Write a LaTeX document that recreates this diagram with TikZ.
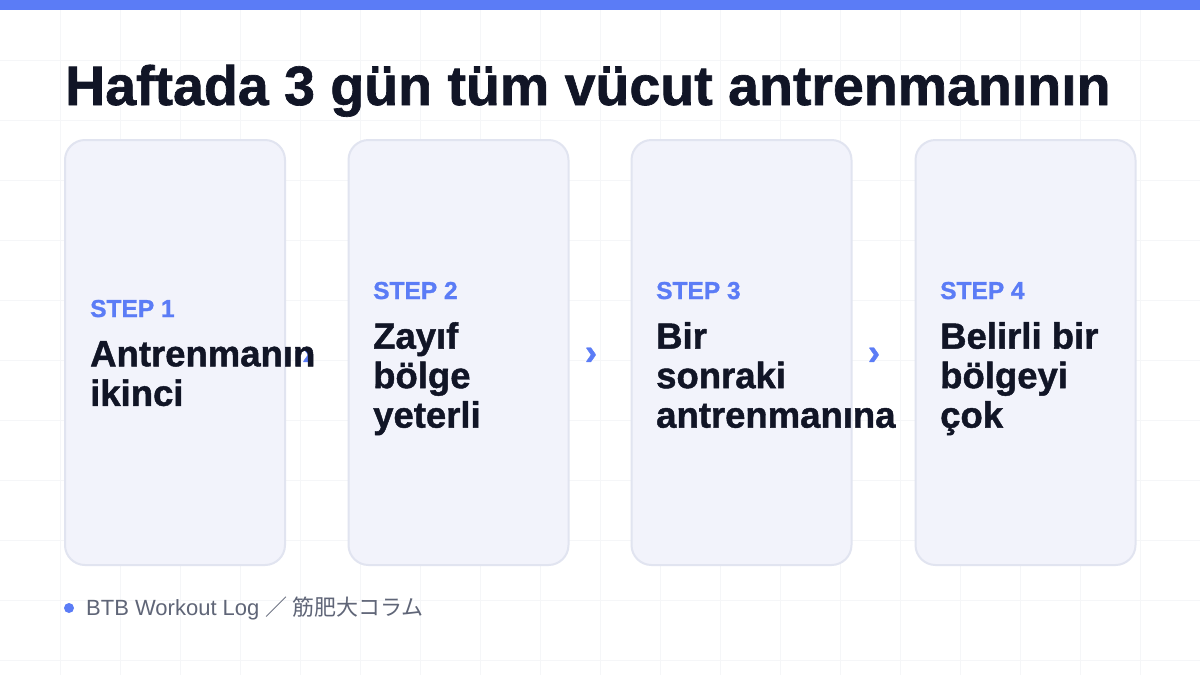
\documentclass[tikz,border=0pt]{standalone}
\usepackage{fontspec}
\setmainfont{Liberation Sans}[BoldFeatures={FakeBold=1.2}]
\newfontfamily\cjkfont{Noto Sans CJK JP}
\definecolor{accent}{HTML}{5B7CF6}
\definecolor{ink}{HTML}{111526}
\definecolor{cardfill}{HTML}{F2F3FB}
\definecolor{cardline}{HTML}{E1E4F0}
\definecolor{gridc}{HTML}{F5F6F8}
\definecolor{footc}{HTML}{5F6577}
\tikzset{
  card/.style={draw=cardline, fill=cardfill, line width=2pt, rounded corners=20pt, minimum width=220pt, minimum height=425pt, inner sep=0pt},
  steplabel/.style={anchor=base west, inner sep=0pt, text=accent, font=\fontsize{24.5}{24.5}\selectfont\bfseries},
  bodytext/.style={anchor=north west, inner sep=0pt, text=ink, align=left, font=\fontsize{36.5}{39.5}\selectfont\bfseries},
  chev/.style={inner sep=0pt, text=accent, font=\fontsize{36}{36}\selectfont\bfseries},
}
\begin{document}
\begin{tikzpicture}[x=1pt,y=-1pt]
\useasboundingbox (0,0) rectangle (1200,675);
\fill[white] (0,0) rectangle (1200,675);
\foreach \gx in {60,120,...,1140} \draw[gridc, line width=1pt] (\gx,0) -- (\gx,675);
\foreach \gy in {60,120,...,660} \draw[gridc, line width=1pt] (0,\gy) -- (1200,\gy);
\fill[accent] (0,0) rectangle (1200,10);
\node[anchor=base west, inner sep=0pt, text=ink, font=\fontsize{55.5}{55.5}\selectfont\bfseries] (title) at (65,105) {Haftada 3 gün tüm vücut antrenmanının};
\node[card] (c1) at (175,352.5) {};
\node[card] (c2) at (458.5,352.5) {};
\node[card] (c3) at (741.5,352.5) {};
\node[card] (c4) at (1025.5,352.5) {};
\node[chev] (a1) at (308,356) {›};
\node[chev] (a2) at (591,356) {›};
\node[chev] (a3) at (874,356) {›};
\node[steplabel] (s1) at (90,317) {STEP 1};
\node[bodytext] (t1) at (90,341) {Antrenmanın\\ikinci};
\node[steplabel] (s2) at (373,299) {STEP 2};
\node[bodytext] (t2) at (373,322) {Zayıf\\bölge\\yeterli};
\node[steplabel] (s3) at (656,299) {STEP 3};
\node[bodytext] (t3) at (656,322) {Bir\\sonraki\\antrenmanına};
\node[steplabel] (s4) at (940,299) {STEP 4};
\node[bodytext] (t4) at (940,322) {Belirli bir\\bölgeyi\\çok};
\fill[accent] (69,608) circle (5pt);
\node[anchor=base west, inner sep=0pt, text=footc, font=\fontsize{22}{22}\selectfont] (foot) at (86,615) {BTB Workout Log {\cjkfont ／ 筋肥大コラム}};
\end{tikzpicture}
\end{document}
